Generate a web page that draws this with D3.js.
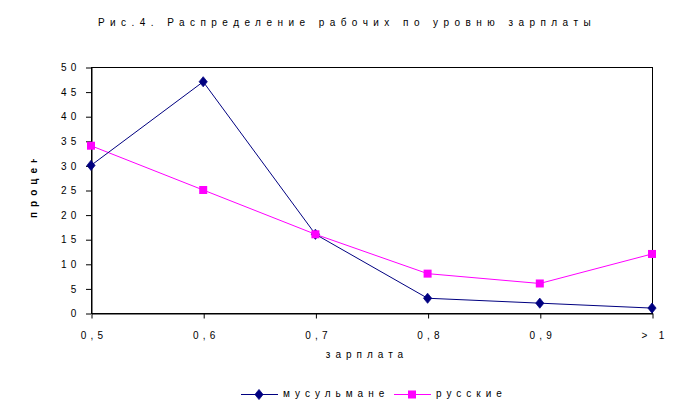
<!DOCTYPE html>
<html><head><meta charset="utf-8">
<script src="https://cdn.jsdelivr.net/npm/d3@7"></script>
<style>body{margin:0;background:#fff}svg{display:block}text{font-family:"Liberation Sans",Arial,sans-serif;fill:#000}</style>
</head><body>
<script>
const categories = ["0,5","0,6","0,7","0,8","0,9","> 1"];
const muslims = [30, 47, 16, 3, 2, 1];
const russians = [34, 25, 16, 8, 6, 12];
const yTicks = [0,5,10,15,20,25,30,35,40,45,50];
const seriesNames = ["мусульмане","русские"];

const W=688,H=412;
const svg=d3.select("body").append("svg").attr("width",W).attr("height",H);
const L=91,R=652,T=67,B=313;
const x=d3.scalePoint().domain(categories).range([L,R]);
const y=d3.scaleLinear().domain([0,50]).range([B,T]);
const ls="4.2px";

svg.append("text").attr("x",347).attr("y",26).attr("text-anchor","middle")
  .style("font-size","10px").style("letter-spacing","5.45px").text("Рис.4. Распределение рабочих по уровню зарплаты");

// frame
svg.append("rect").attr("x",L+0.5).attr("y",T+0.5).attr("width",R-L).attr("height",B-T)
  .attr("fill","none").attr("stroke","#000").attr("stroke-width",1);

const ya=svg.append("g").attr("transform",`translate(${L+0.5},0.5)`)
  .call(d3.axisLeft(y).tickValues(yTicks).tickSize(5).tickSizeOuter(0).tickFormat(d=>String(d)));
ya.select(".domain").attr("stroke","#000");
ya.selectAll("line").attr("transform","translate(-0.5,0)");
ya.selectAll("text").style("font-size","10px").style("letter-spacing",ls).attr("x",-11).attr("font-family","Liberation Sans");

const xa=svg.append("g").attr("transform",`translate(0.5,${B+0.5})`)
  .call(d3.axisBottom(x).tickSize(5).tickSizeOuter(0));
xa.select(".domain").attr("stroke","#000");
xa.selectAll("text").style("font-size","10px").style("letter-spacing",ls).attr("y",18).attr("dx","2px").attr("font-family","Liberation Sans");

svg.append("defs").append("clipPath").attr("id","yc").append("rect").attr("x",20).attr("y",159).attr("width",30).attr("height",70);
svg.append("g").attr("clip-path","url(#yc)").append("text")
  .attr("transform","translate(37,218) rotate(-90)").attr("text-anchor","start")
  .style("font-size","10px").style("font-weight","bold").style("letter-spacing","5px").text("процент");

svg.append("text").attr("x",367).attr("y",358).attr("text-anchor","middle")
  .style("font-size","10px").style("letter-spacing","5px").text("зарплата");

const line=d3.line().x((d,i)=>x(categories[i])).y(d=>y(d));
const navy="#000080",mag="#FF00FF";
svg.append("path").datum(russians).attr("d",line).attr("fill","none").attr("stroke",mag).attr("stroke-width",1);
svg.append("path").datum(muslims).attr("d",line).attr("fill","none").attr("stroke",navy).attr("stroke-width",1);
const diamond=d3.symbol().type(d3.symbolDiamond).size(30);
svg.selectAll(".m").data(muslims).join("path").attr("d",diamond)
  .attr("transform",(d,i)=>`translate(${x(categories[i])},${y(d)}) scale(1.4,1)`).attr("fill",navy).attr("stroke",navy).attr("stroke-width",0.6).attr("stroke-linejoin","round");
svg.selectAll(".r").data(russians).join("rect")
  .attr("x",(d,i)=>x(categories[i])-4).attr("y",d=>y(d)-4).attr("width",8).attr("height",8).attr("fill",mag);

// legend
const lg=svg.append("g");
lg.append("line").attr("x1",241).attr("x2",278).attr("y1",394.5).attr("y2",394.5).attr("stroke",navy);
lg.append("path").attr("d",diamond).attr("transform","translate(259,394.5) scale(1.4,1)").attr("fill",navy).attr("stroke",navy).attr("stroke-width",0.6).attr("stroke-linejoin","round");
lg.append("text").attr("x",283).attr("y",397).style("font-size","10px").style("letter-spacing","5px").text(seriesNames[0]);
lg.append("line").attr("x1",394).attr("x2",431).attr("y1",394.5).attr("y2",394.5).attr("stroke",mag);
lg.append("rect").attr("x",408).attr("y",390.5).attr("width",8).attr("height",8).attr("fill",mag);
lg.append("text").attr("x",436).attr("y",397).style("font-size","10px").style("letter-spacing","5px").text(seriesNames[1]);
</script>
</body></html>
